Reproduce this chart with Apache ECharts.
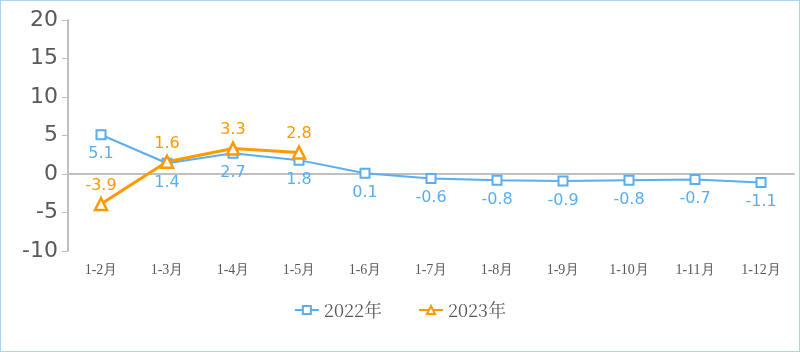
<!DOCTYPE html>
<html>
<head>
<meta charset="utf-8">
<script src="https://cdn.jsdelivr.net/npm/echarts@6/dist/echarts.min.js"></script>
<style>
html,body{margin:0;padding:0;background:#fff;}
#main{width:798px;height:350px;border:1px solid #a8d4f5;}
</style>
</head>
<body>
<div id="main"></div>
<script>
var categories = ['1-2月','1-3月','1-4月','1-5月','1-6月','1-7月','1-8月','1-9月','1-10月','1-11月','1-12月'];
var values2022 = [5.1, 1.4, 2.7, 1.8, 0.1, -0.6, -0.8, -0.9, -0.8, -0.7, -1.1];
var values2023 = [-3.9, 1.6, 3.3, 2.8];
var yTicks = [-10, -5, 0, 5, 10, 15, 20];

var option = {
    animation: false,
    grid: {left: 67, right: 5, top: 19, bottom: 100},
    legend: {
        bottom: 27,
        left: 'center',
        itemGap: 36,
        itemWidth: 24,
        itemHeight: 10,
        textStyle: {fontFamily: 'Noto Serif CJK SC, Liberation Serif, serif', fontSize: 18, color: '#595959'},
        data: ['2022年', '2023年']
    },
    xAxis: {
        type: 'category',
        data: categories,
        boundaryGap: true,
        axisLine: {lineStyle: {color: '#bfbfbf', width: 2}},
        axisTick: {show: false},
        axisLabel: {fontFamily: 'Liberation Serif, serif', fontSize: 14, color: '#595959', margin: 12}
    },
    yAxis: {
        type: 'value',
        min: yTicks[0],
        max: yTicks[yTicks.length - 1],
        interval: 5,
        axisLine: {show: true, lineStyle: {color: '#bfbfbf', width: 2}},
        axisTick: {show: true, length: 6, lineStyle: {color: '#bfbfbf'}},
        splitLine: {show: false},
        axisLabel: {fontFamily: 'DejaVu Sans, Verdana, sans-serif', fontSize: 22, color: '#595959', margin: 10}
    },
    series: [
        {
            name: '2022年',
            type: 'line',
            data: values2022,
            symbol: 'rect',
            symbolSize: 9,
            itemStyle: {color: '#ffffff', borderColor: '#5aaeef', borderWidth: 2},
            lineStyle: {color: '#5aaeef', width: 2},
            label: {show: true, position: 'bottom', distance: 6, color: '#5aaeef', fontSize: 16, fontFamily: 'DejaVu Sans, Verdana, sans-serif'},
            z: 2
        },
        {
            name: '2023年',
            type: 'line',
            data: values2023,
            symbol: 'triangle',
            symbolSize: 12,
            itemStyle: {color: '#ffffff', borderColor: '#ff9900', borderWidth: 2.5},
            lineStyle: {color: '#ff9900', width: 3},
            label: {show: true, position: 'top', distance: 3, color: '#ff9900', fontSize: 16, fontFamily: 'DejaVu Sans, Verdana, sans-serif'},
            z: 3
        }
    ]
};

echarts.init(document.getElementById('main')).setOption(option);
</script>
</body>
</html>
